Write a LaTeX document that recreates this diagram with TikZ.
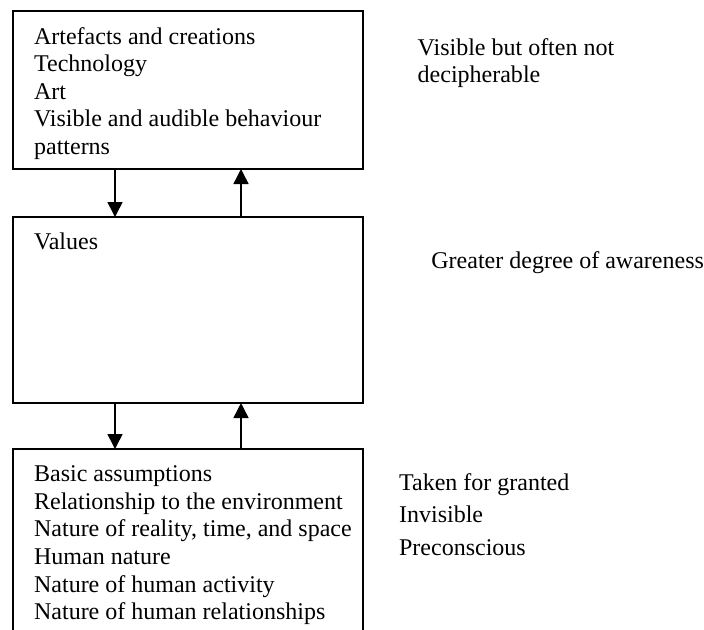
\documentclass[tikz,border=0pt]{standalone}
\usepackage{fontspec}
\setmainfont{Liberation Serif}
\usetikzlibrary{arrows.meta}
\begin{document}
\begin{tikzpicture}[x=0.5pt,y=-0.5pt,
  every node/.style={font=\fontsize{12pt}{13.8pt}\selectfont},
  layer/.style={draw, line width=1pt, anchor=north west, minimum width=175.2pt,
    inner sep=0pt, outer sep=0pt},
  itemlist/.style={align=left, anchor=base west, inner sep=0pt},
  note/.style={align=left, anchor=base west, inner sep=0pt},
  link/.style={line width=0.75pt, -{Triangle[width=7.5pt,length=7.5pt]}}]
\useasboundingbox (0,0) rectangle (704,629);

% the three levels of culture
\begin{scope}
  \clip (0,0) rectangle (704,629);
  \node[layer, minimum height=79pt]  (artefacts)   at (12.6,11)  {};
  \node[layer, minimum height=93pt]  (values)      at (12.6,217) {};
  \node[layer, minimum height=106pt] (assumptions) at (12.6,449) {};
\end{scope}

% contents of each level (base anchor sits on the last line)
\node[itemlist] (artefacts-text) at (33.7,154.4)
  {Artefacts and creations\\Technology\\Art\\Visible and audible behaviour\\patterns};
\node[itemlist] (values-text) at (33.7,249.5) {Values};
\node[itemlist] (assumptions-text) at (33.7,619.7)
  {Basic assumptions\\Relationship to the environment\\Nature of reality, time, and space\\Human nature\\Nature of human activity\\Nature of human relationships};

% side notes
\node[note] (visible) at (417.3,82.6) {Visible but often not\\decipherable};
\node[note] (awareness) at (431,268) {Greater degree of awareness};
\node[note, font=\fontsize{12pt}{16.25pt}\selectfont] (granted) at (398.7,555)
  {Taken for granted\\Invisible\\Preconscious};

% two-way links between levels
\coordinate (downx) at (115,0);
\coordinate (upx) at (241,0);
\draw[link] (artefacts.south -| downx) -- (values.north -| downx);
\draw[link] (values.north -| upx) -- (artefacts.south -| upx);
\draw[link] (values.south -| downx) -- (assumptions.north -| downx);
\draw[link] (assumptions.north -| upx) -- (values.south -| upx);
\end{tikzpicture}
\end{document}
